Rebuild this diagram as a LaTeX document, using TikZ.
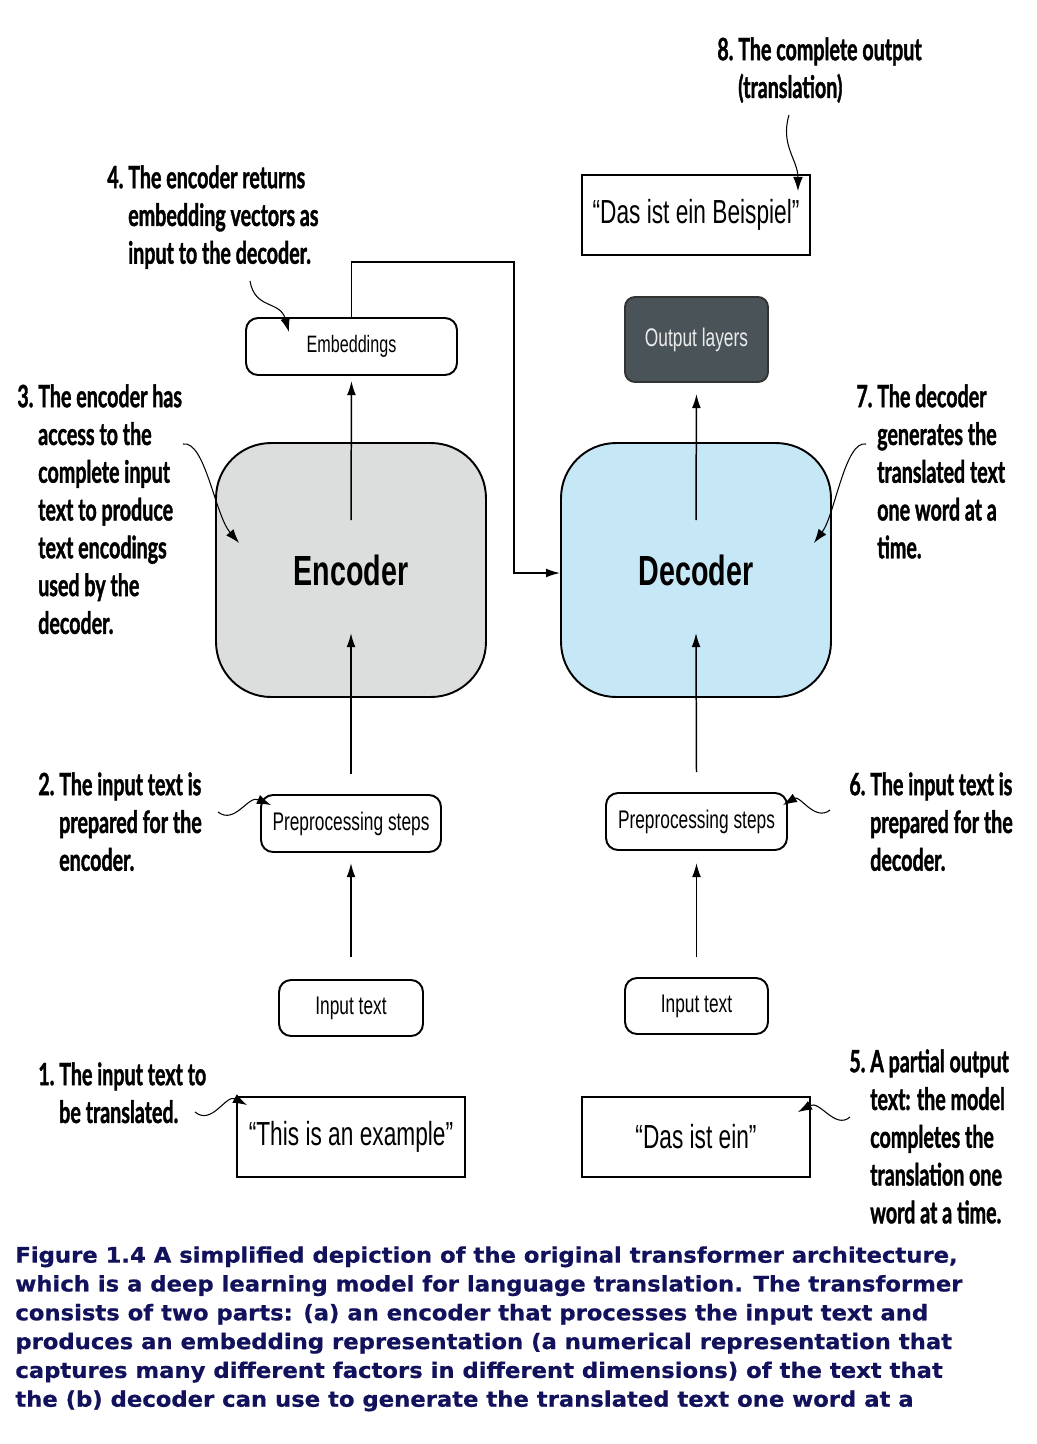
\documentclass[tikz,border=0pt]{standalone}
\usepackage{fontspec}
\usetikzlibrary{arrows.meta}
\newfontfamily\boxfont[FakeStretch=0.68]{Liberation Sans}
\newfontfamily\notefont[FakeStretch=0.64, BoldFeatures={FakeBold=1.2}]{Lato}
\newfontfamily\capfont[FakeStretch=1.06, BoldFeatures={FakeBold=0.6}]{DejaVu Sans}
\definecolor{encgray}{HTML}{DCDEDD}
\definecolor{decblue}{HTML}{C6E7F6}
\definecolor{outdark}{HTML}{4A5458}
\definecolor{capnavy}{HTML}{11115C}
\newcommand{\notepad}[1]{\hphantom{#1.\ }}

\begin{document}
\begin{tikzpicture}[x=0.02cm, y=-0.02cm, every node/.style={align=center},
    stepbox/.style={draw, line width=1.1pt, rounded corners=0.24cm, inner sep=0pt, font=\boxfont\fontsize{14.5}{17}\selectfont},
    quotebox/.style={draw, line width=1.1pt, minimum width=4.56cm, minimum height=1.6cm, font=\boxfont\fontsize{19}{22}\selectfont},
    coder/.style={draw, line width=1.1pt, rounded corners=1.1cm, minimum width=5.4cm, minimum height=5.08cm, font=\boxfont\bfseries\fontsize{24}{28}\selectfont},
    note/.style={anchor=north west, align=left, inner sep=0pt, font=\notefont\bfseries\fontsize{17.5}{21.5}\selectfont},
    flow/.style={-{Latex[length=8pt,width=5pt]}, line width=0.85pt},
    pointer/.style={-{Latex[length=8pt,width=5.5pt]}, line width=0.6pt}]
        \path[fill=white, use as bounding box] (0,0) rectangle (1036,1444);
        % encoder column
        \node[quotebox] (srcQ) at (351,1137) {“This is an example”};
        \node[stepbox, minimum width=2.88cm, minimum height=1.12cm] (encIn) at (351,1008) {Input text};
        \node[stepbox, minimum width=3.6cm, minimum height=1.14cm] (encPre) at (351,823.5) {Preprocessing steps};
        \node[coder, fill=encgray] (enc) at (351,570) {Encoder};
        \node[stepbox, minimum width=4.22cm, minimum height=1.14cm, font=\boxfont\fontsize{13.5}{16}\selectfont] (emb) at (351.5,346.5) {Embeddings};
        % decoder column
        \node[quotebox] (partQ) at (696,1137) {“Das ist ein”};
        \node[stepbox, minimum width=2.86cm, minimum height=1.12cm] (decIn) at (696.5,1006) {Input text};
        \node[stepbox, minimum width=3.62cm, minimum height=1.14cm] (decPre) at (696.5,821.5) {Preprocessing steps};
        \node[coder, fill=decblue] (dec) at (696,570) {Decoder};
        \node[stepbox, fill=outdark, draw=black!80, text=white!92!black, rounded corners=0.2cm, minimum width=2.86cm, minimum height=1.7cm] (outL) at (696.5,339.5) {Output layers};
        \node[quotebox] (tgtQ) at (696,215) {“Das ist ein Beispiel”};

        \draw[flow, shorten <=0.44cm, shorten >=0.2cm] (encIn.north) -- (encPre.south);
        \draw[flow] ([yshift=0.4cm]encPre.north) -- ([yshift=1.3cm]enc.south);
        \draw[flow, shorten >=0.1cm] ([yshift=1cm]enc.center) -- (emb.south);
        \draw[flow, shorten <=0.4cm, shorten >=0.24cm] (decIn.north) -- (decPre.south);
        \draw[flow] ([yshift=0.4cm]decPre.north) -- ([yshift=1.3cm]dec.south);
        \draw[flow, shorten >=0.22cm] ([yshift=1cm]dec.center) -- (outL.south);
        \coordinate (bend) at (514,262);
        \draw[flow] (emb.north) |- (bend) |- ([yshift=-0.06cm]dec.west);

        % numbered notes
        \node[note] (n8) at (717,37) {8.\ The complete output\\\notepad{8}(translation)};
        \node[note] (n4) at (107,165) {4.\ The encoder returns\\\notepad{4}embedding vectors as\\\notepad{4}input to the decoder.};
        \node[note] (n3) at (17,384) {3.\ The encoder has\\\notepad{3}access to the\\\notepad{3}complete input\\\notepad{3}text to produce\\\notepad{3}text encodings\\\notepad{3}used by the\\\notepad{3}decoder.};
        \node[note] (n7) at (856,384) {7.\ The decoder\\\notepad{7}generates the\\\notepad{7}translated text\\\notepad{7}one word at a\\\notepad{7}time.};
        \node[note] (n2) at (38,772) {2.\ The input text is\\\notepad{2}prepared for the\\\notepad{2}encoder.};
        \node[note] (n6) at (849,772) {6.\ The input text is\\\notepad{6}prepared for the\\\notepad{6}decoder.};
        \node[note] (n1) at (38,1062) {1.\ The input text to\\\notepad{1}be translated.};
        \node[note] (n5) at (849,1049) {5.\ A partial output\\\notepad{5}text: the model\\\notepad{5}completes the\\\notepad{5}translation one\\\notepad{5}word at a time.};

        \coordinate (t1) at (195,1112);
        \coordinate (t2) at (218,812);
        \coordinate (t3) at (183,444);
        \coordinate (t4) at (250,281);
        \coordinate (t5) at (850,1117);
        \coordinate (t6) at (830,810);
        \coordinate (t7) at (866,444);
        \coordinate (t8) at (789,115);
        \draw[pointer] (t1) .. controls (212,1126) and (226,1094) .. ([shift={(11,9)}]srcQ.north west);
        \draw[pointer] (t2) .. controls (235,825) and (248,795) .. ([shift={(11,11)}]encPre.north west);
        \draw[pointer] (t3) .. controls (205,440) and (215,515) .. ([shift={(24,-27)}]enc.west);
        \draw[pointer] (t4) .. controls (255,310) and (280,300) .. ([shift={(44,15)}]emb.north west);
        \draw[pointer] (t5) .. controls (835,1130) and (820,1100) .. ([shift={(-13,16)}]partQ.north east);
        \draw[pointer] (t6) .. controls (815,822) and (800,795) .. ([shift={(-5,13)}]decPre.north east);
        \draw[pointer] (t7) .. controls (845,440) and (835,515) .. ([shift={(-18,-27)}]dec.east);
        \draw[pointer] (t8) .. controls (780,145) and (798,160) .. ([shift={(-13,17)}]tgtQ.north east);

        % caption
        \node[anchor=north west, align=left, inner sep=0pt, text=capnavy, font=\capfont\bfseries\fontsize{12.2}{16.4}\selectfont] (cap) at (15,1246)
            {Figure 1.4 A simplified depiction of the original transformer architecture,\\
             which is a deep learning model for language translation. The transformer\\
             consists of two parts: (a) an encoder that processes the input text and\\
             produces an embedding representation (a numerical representation that\\
             captures many different factors in different dimensions) of the text that\\
             the (b) decoder can use to generate the translated text one word at a};
    \end{tikzpicture}
\end{document}
